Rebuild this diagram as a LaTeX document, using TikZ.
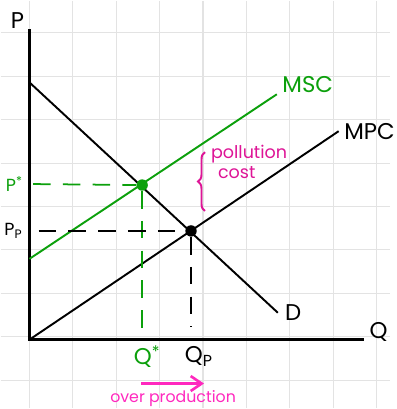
\documentclass[tikz,border=0pt]{standalone}
\usepackage{fontspec}
\setmainfont{Poppins}
\usepackage{xcolor}
\usepackage{tikz}
\usetikzlibrary{arrows.meta, positioning, calc, decorations.pathreplacing}

\definecolor{mscgreen}{RGB}{12,160,12}
\definecolor{costpink}{RGB}{222,20,150}
\definecolor{overpink}{RGB}{255,40,190}

\begin{document}
\begin{tikzpicture}[
    x=0.02cm, y=-0.02cm,
    % --- line styles ---
    gridline/.style={draw=black!11, line width=0.6pt},
    axisline/.style={draw=black, line width=1.6pt},
    curve/.style={line width=1.1pt},
    ddash/.style={line width=1pt, dash pattern=on 10pt off 7pt},
    dot/.style={circle, inner sep=0pt, minimum size=6.5pt},
    % --- label styles ---
    lbl/.style={font=\fontsize{13}{15}\selectfont, inner sep=1pt},
    small/.style={font=\fontsize{10}{10}\selectfont, inner sep=1pt},
    arr/.style={-{Straight Barb[length=2.2mm, width=3mm]}, line width=1.5pt}
]

%%% ================= FUNDO =================
\fill[white] (0,0) rectangle (390,409);
\foreach \i in {0,...,8} {
    \draw[gridline] ({29+43.5*\i},0) -- ({29+43.5*\i},409);
    \draw[gridline] (0,{32.5+43.5*\i}) -- (390,{32.5+43.5*\i});
}

%%% ================= EIXOS =================
\coordinate (orig) at (29,340);
\coordinate (ptop) at (29,29);
\coordinate (qend) at (364,340);
\node (plabel) [lbl] at (17,20) {P};
\node (qlabel) [lbl] at (379,332) {Q};
\draw[axisline] (ptop) -- (orig) -- (qend);

%%% ================= CURVAS =================
\coordinate (dtop) at (30,83);
\coordinate (dend) at (278,313);
\coordinate (mpcend) at (339,131);
\coordinate (mscstart) at (29,259);
\coordinate (mscend) at (277,94);
\draw[curve] (dtop) -- (dend);
\draw[curve] (orig) -- (mpcend);
\draw[curve, mscgreen] (mscstart) -- (mscend);
\node (dlabel)   [lbl, right=3pt of dend] {D};
\node (mpclabel) [lbl, right=2pt of mpcend] {MPC};
\node (msclabel) [lbl, mscgreen, above right=0pt and 2pt of mscend] {MSC};

%%% ================= EQUIL\'{I}BRIOS =================
\node (soc)  [dot, fill=mscgreen] at (142,185) {};
\node (priv) [dot, fill=black] at (191,231) {};

\node (pstar) [small, mscgreen] at (14,184) {P\textsuperscript{*}};
\node (pp)    [small] at (13,231) {P\textsubscript{P}};
\node (qstar) [lbl, mscgreen] at (147,357) {Q\textsuperscript{*}};
\node (qp)    [lbl] at (199,357) {Q\textsubscript{P}};

\draw[ddash, mscgreen] (pstar.east) ++(8,0) -- (soc);
\draw[ddash, mscgreen] (soc) -- ([yshift=6pt]soc |- qstar.north);
\draw[ddash] (pp.east) ++(14,0) -- (priv);
\draw[ddash] (priv) -- ([yshift=10pt]priv |- qp.north);

%%% ================= CUSTO DA POLUI\c{C}\~{A}O =================
\draw[costpink, line width=1.1pt, decorate,
    decoration={brace, amplitude=4pt}] (205,211) -- (205,152);
\node (pollution) [small, costpink, anchor=west] at (209,154) {pollution};
\node (cost)      [small, costpink, anchor=west] at (216,172) {cost};

%%% ================= SOBREPRODU\c{C}\~{A}O =================
\coordinate (over1) at (141,384);
\coordinate (over2) at (204,384);
\draw[arr, overpink] (over1) -- (over2);
\node (overprod) [small, overpink, font=\fontsize{9}{9}\selectfont] at (173,399) {over production};

\end{tikzpicture}
\end{document}
